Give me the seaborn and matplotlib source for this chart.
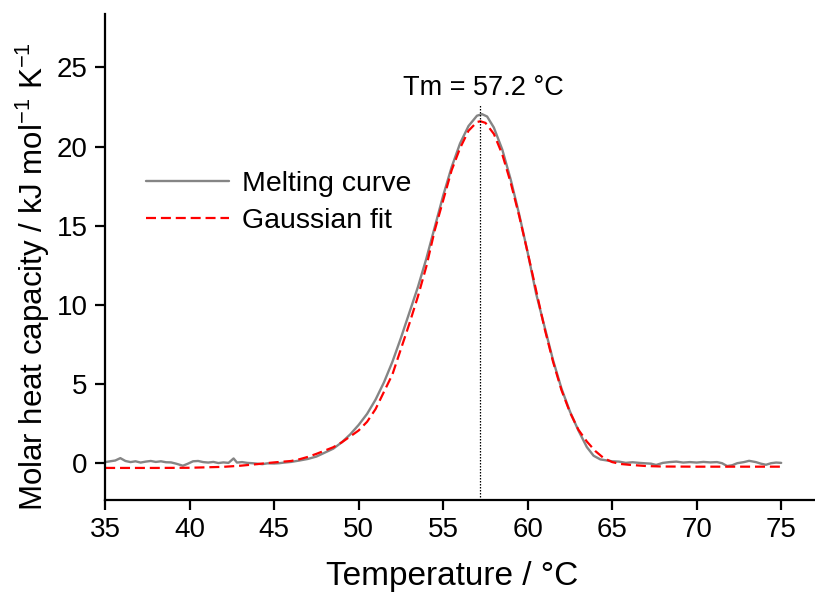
import numpy as np
import pandas as pd
import matplotlib
matplotlib.use("Agg")
import matplotlib.pyplot as plt
import seaborn as sns

# melting curve
melt_temp = [35.0, 35.3, 35.6, 35.9, 36.2, 36.5, 36.8, 37.1, 37.4, 37.7, 38.0, 38.3,
             38.6, 38.9, 39.2, 39.6, 39.9, 40.2, 40.5, 40.8, 41.1, 41.4, 41.7, 42.0,
             42.3, 42.6, 42.8, 43.1, 43.4, 43.7, 44.0, 44.3, 44.6, 45.0, 45.3, 45.6,
             46.0, 46.5, 47.0, 47.5, 48.0, 48.5, 49.0, 49.5, 50.0, 50.5, 51.0, 51.5,
             52.0, 52.5, 53.0, 53.5, 54.0, 54.5, 55.0, 55.5, 56.0, 56.5, 57.0, 57.3,
             57.6, 58.0, 58.5, 59.0, 59.5, 60.0, 60.5, 61.0, 61.5, 62.0, 62.5, 63.0,
             63.5, 63.9, 64.3, 64.7, 65.0, 65.4, 65.8, 66.2, 66.6, 67.0, 67.3, 67.6,
             68.0, 68.4, 68.8, 69.2, 69.6, 70.0, 70.4, 70.8, 71.2, 71.5, 71.8, 72.1,
             72.4, 72.8, 73.1, 73.5, 73.8, 74.1, 74.4, 74.7, 75.0]
melt_cp = [0.05, 0.10, 0.15, 0.30, 0.12, 0.05, 0.10, 0.02, 0.08, 0.12, 0.06, 0.10,
           0.04, 0.03, -0.05, -0.18, -0.05, 0.10, 0.12, 0.05, 0.02, 0.06, -0.01, 0.03,
           0.00, 0.28, 0.02, 0.05, 0.00, -0.02, -0.05, -0.08, -0.03, -0.04, -0.02, 0.02,
           0.06, 0.15, 0.25, 0.40, 0.65, 0.90, 1.30, 1.80, 2.40, 3.10, 4.00, 5.10,
           6.40, 7.90, 9.50, 11.10, 12.90, 14.90, 16.90, 18.70, 20.20, 21.30, 21.95, 22.05,
           21.90, 21.20, 19.80, 17.90, 15.70, 13.30, 10.70, 8.60, 6.50, 4.70, 3.25, 2.05,
           1.00, 0.45, 0.22, 0.15, 0.10, 0.08, 0.00, 0.04, 0.00, -0.03, -0.05, -0.13,
           0.00, 0.05, 0.08, 0.02, 0.05, 0.02, 0.06, 0.03, 0.05, -0.02, -0.20, -0.15,
           -0.02, 0.05, 0.13, 0.05, -0.05, -0.12, -0.02, 0.02, 0.00]

# gaussian fit
fit_temp = [35.0, 38.0, 40.0, 42.0, 43.0, 44.0, 44.5, 45.0, 46.0, 46.5, 47.0, 47.5,
            48.0, 48.5, 49.0, 49.5, 50.0, 50.5, 51.0, 51.5, 52.0, 52.5, 53.0, 53.5,
            54.0, 54.5, 55.0, 55.5, 56.0, 56.5, 57.0, 57.2, 57.5, 58.0, 58.5, 59.0,
            59.5, 60.0, 60.5, 61.0, 61.5, 62.0, 62.5, 63.0, 63.5, 64.0, 64.5, 65.0,
            65.5, 66.0, 67.0, 68.0, 70.0, 72.0, 75.0]
fit_cp = [-0.32, -0.32, -0.31, -0.25, -0.18, -0.08, -0.02, 0.03, 0.12, 0.23, 0.38, 0.57,
          0.78, 0.99, 1.30, 1.67, 2.05, 2.60, 3.40, 4.50, 5.60, 7.20, 8.80, 10.50,
          12.40, 14.70, 16.60, 18.50, 19.90, 21.00, 21.55, 21.60, 21.50, 20.80, 19.50, 17.70,
          15.60, 13.30, 10.90, 8.50, 6.40, 4.60, 3.20, 2.10, 1.35, 0.75, 0.30, 0.05,
          -0.07, -0.12, -0.20, -0.23, -0.24, -0.24, -0.24]

tm = 57.2
tm_line_top = 22.6
tm_label = "Tm = 57.2 \u00b0C"

melt_df = pd.DataFrame({"temp": melt_temp, "cp": melt_cp})
fit_df = pd.DataFrame({"temp": fit_temp, "cp": fit_cp})

sns.set_style("ticks", {"axes.edgecolor": "black", "text.color": "black",
                        "axes.labelcolor": "black", "xtick.color": "black",
                        "ytick.color": "black"})
plt.rcParams["font.family"] = ["Liberation Sans", "DejaVu Sans"]
plt.rcParams["mathtext.fontset"] = "custom"
plt.rcParams["mathtext.rm"] = "Liberation Sans"
plt.rcParams["mathtext.it"] = "Liberation Sans"

fig = plt.figure(figsize=(8.15, 5.96), dpi=100)
ax = fig.add_axes([0.129, 0.161, 0.871, 0.816])

sns.lineplot(data=melt_df, x="temp", y="cp", ax=ax, color="#858585",
             linewidth=1.7, label="Melting curve", sort=False)
sns.lineplot(data=fit_df, x="temp", y="cp", ax=ax, color="red",
             linewidth=1.6, label="Gaussian fit", sort=False)
ax.lines[1].set_dashes((4.5, 2.2))

ylo, yhi = -2.35, 28.4
ax.vlines(tm, ylo, tm_line_top, colors="black", linestyles=(0, (1.2, 1.2)), linewidth=0.9)
ax.text(57.4, 22.9, tm_label, ha="center", va="bottom", fontsize=19.5)

ax.set_xlim(35, 77)
ax.set_ylim(ylo, yhi)
ax.set_xticks(np.arange(35, 76, 5))
ax.set_yticks(np.arange(0, 26, 5))
ax.tick_params(labelsize=20, width=1.6, length=7.5, pad=5, direction="out")
for side in ["left", "bottom"]:
    ax.spines[side].set_linewidth(1.6)
sns.despine(ax=ax)

ax.set_xlabel("Temperature / \u00b0C", fontsize=24)
ax.set_ylabel(r"Molar heat capacity / kJ mol$^{-1}$ K$^{-1}$", fontsize=22.5)
ax.xaxis.set_label_coords(0.489, -0.125)
ax.yaxis.set_label_coords(-0.075, 0.46)

leg = ax.legend(loc="upper left", bbox_to_anchor=(0.022, 0.73), frameon=False,
                fontsize=20.5, handlelength=2.9, handletextpad=0.45, labelspacing=0.4)

fig.savefig("out.png", dpi=100)
